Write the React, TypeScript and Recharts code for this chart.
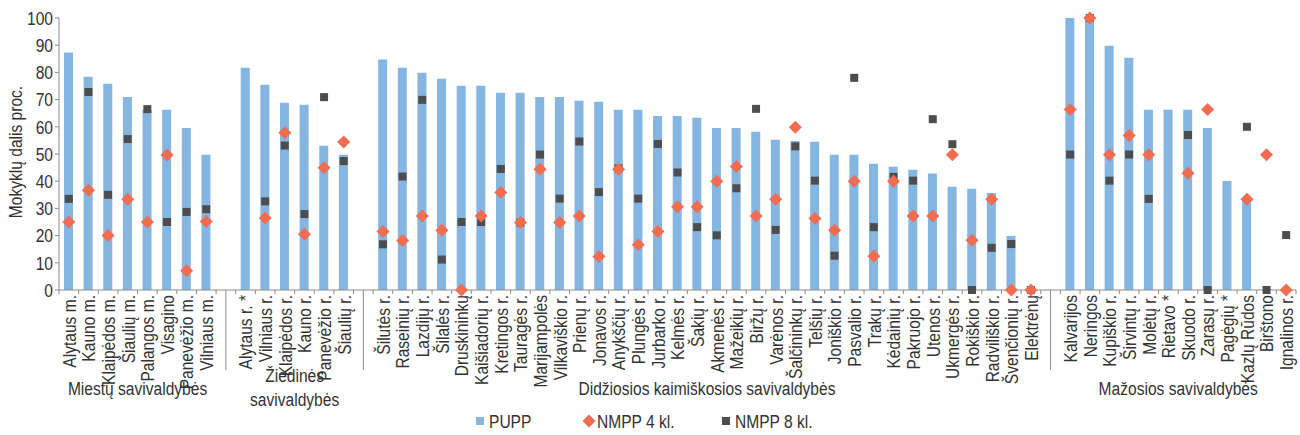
import React from 'react';
import { ComposedChart, Bar, Scatter, XAxis, YAxis, Legend } from 'recharts';

const categories = [
  'Alytaus m.', 'Kauno m.', 'Klaipėdos m.', 'Šiaulių m.', 'Palangos m.', 'Visagino', 'Panevėžio m.', 'Vilniaus m.',
  '',
  'Alytaus r. *', 'Vilniaus r.', 'Klaipėdos r.', 'Kauno r.', 'Panevėžio r.', 'Šiaulių r.',
  '',
  'Šilutės r.', 'Raseinių r.', 'Lazdijų r.', 'Šilalės r.', 'Druskininkų', 'Kaišiadorių r.', 'Kretingos r.', 'Tauragės r.',
  'Marijampolės', 'Vilkaviškio r.', 'Prienų r.', 'Jonavos r.', 'Anykščių r.', 'Plungės r.', 'Jurbarko r.', 'Kelmės r.',
  'Šakių r.', 'Akmenės r.', 'Mažeikių r.', 'Biržų r.', 'Varėnos r.', 'Šalčininkų r.', 'Telšių r.', 'Joniškio r.',
  'Pasvalio r.', 'Trakų r.', 'Kėdainių r.', 'Pakruojo r.', 'Utenos r.', 'Ukmergės r.', 'Rokiškio r.', 'Radviliškio r.',
  'Švenčionių r.', 'Elektrėnų',
  '',
  'Kalvarijos', 'Neringos', 'Kupiškio r.', 'Širvintų r.', 'Molėtų r.', 'Rietavo *', 'Skuodo r.', 'Zarasų r.',
  'Pagėgių *', 'Kazlų Rūdos', 'Birštono', 'Ignalinos r.',
];

const pupp = [
  87.3, 78.4, 75.8, 71, 66.3, 66.3, 59.6, 49.7,
  null,
  81.7, 75.5, 68.8, 68.1, 53, 49.7,
  null,
  84.7, 81.7, 79.9, 77.7, 75.1, 75.1, 72.5, 72.5, 71, 71, 69.6, 69.2, 66.3, 66.3, 64, 64,
  63.3, 59.6, 59.6, 58.2, 55.2, 54.8, 54.5, 49.7, 49.7, 46.4, 45.3, 44.2, 42.8, 38, 37.2, 35.7,
  19.9, 0,
  null,
  100, 100, 89.8, 85.4, 66.3, 66.3, 66.3, 59.6, 40.1, 33.4, 0, 0,
];

const nmpp4 = [
  25, 36.7, 20, 33.4, 25, 49.6, 7.1, 25.2,
  null,
  null, 26.5, 57.8, 20.5, 44.9, 54.4,
  null,
  21.5, 18.2, 27.2, 22, 0, 27.2, 35.8, 24.8, 44.4, 24.8, 27.2, 12.3, 44.4, 16.6, 21.5, 30.6,
  30.6, 40, 45.4, 27.2, 33.4, 59.8, 26.3, 22, 40, 12.4, 40, 27.2, 27.2, 49.7, 18.3, 33.4,
  0, 0,
  null,
  66.4, 100, 49.7, 56.8, 49.7, null, 42.9, 66.4, null, 33.4, 49.7, 0,
];

const nmpp8 = [
  33.5, 72.8, 35, 55.5, 66.5, 25, 28.7, 29.7,
  null,
  null, 32.6, 53.1, 27.9, 70.9, 47.4,
  null,
  16.8, 41.7, 69.9, 11.2, 25, 25, 44.5, 24.8, 49.8, 33.6, 54.6, 36, 44.7, 33.6, 53.7, 43.2,
  23.1, 20.1, 37.4, 66.6, 22.1, 52.8, 40.2, 12.6, 78, 23.1, 41.6, 40.2, 62.8, 53.6, 0, 15.5,
  16.9, 0,
  null,
  49.8, 100, 40.2, 49.8, 33.5, null, 57, 0, null, 60, 0, 20.2,
];

const groups = [
  { lines: ['Miestų savivaldybės'], start: 0, end: 7 },
  { lines: ['Žiedinės', 'savivaldybės'], start: 9, end: 14 },
  { lines: ['Didžiosios kaimiškosios savivaldybės'], start: 16, end: 49 },
  { lines: ['Mažosios savivaldybės'], start: 51, end: 62 },
];

const yTicks = [0, 10, 20, 30, 40, 50, 60, 70, 80, 90, 100];
const yTitle = 'Mokyklų dalis proc.';

const data = categories.map((name, i) => ({
  idx: i,
  name,
  pupp: pupp[i],
  nmpp4: nmpp4[i],
  nmpp8: nmpp8[i],
}));

const W = 1300;
const H = 435;
const Y_AXIS_W = 59;
const RIGHT = 4;
const STEP = (W - Y_AXIS_W - RIGHT) / categories.length;
// no narrow font installed: squeeze Liberation Sans to look like Arial Narrow
const FONT = "'Liberation Sans', Arial, sans-serif";
const TEXT = '#333333';
const AXIS = '#8c8c8c';

const BLUE = '#85B6E2';
const ORANGE = '#F26C4F';
const DARK = '#4D4D4D';

const NText = ({ x, y, rotate = 0, anchor = 'start', dy, size = 19, narrow = 0.82, children }: any) => (
  <text
    transform={`translate(${x},${y}) rotate(${rotate}) scale(${narrow},1)`}
    textAnchor={anchor}
    dy={dy}
    fontSize={size}
    fontFamily={FONT}
    fill={TEXT}
  >
    {children}
  </text>
);

const XTick = (props: any) => {
  const { x, y, payload } = props;
  const i = Number(payload.value);
  const label = categories[i];
  const group = groups.find((g) => g.start === i);
  return (
    <g>
      <line x1={x - STEP / 2} x2={x - STEP / 2} y1={y} y2={y + 4} stroke={AXIS} />
      {i === categories.length - 1 && (
        <line x1={x + STEP / 2} x2={x + STEP / 2} y1={y} y2={y + 4} stroke={AXIS} />
      )}
      {label === '' ? (
        <line x1={x} x2={x} y1={y} y2={y + 80} stroke={AXIS} />
      ) : (
        <NText x={x} y={y + 5} rotate={-90} anchor="end" dy="0.36em">
          {label}
        </NText>
      )}
      {group &&
        group.lines.map((ln, k) => (
          <NText
            key={ln}
            x={x + ((group.end - group.start) / 2) * STEP}
            y={y + (group.lines.length > 1 ? 92 + k * 24 : 105)}
            anchor="middle"
          >
            {ln}
          </NText>
        ))}
    </g>
  );
};

const YTick = (props: any) => {
  const { x, y, payload } = props;
  return (
    <g>
      <NText x={x} y={y} anchor="end" dy="0.36em">
        {payload.value}
      </NText>
      {payload.value === 50 && (
        <NText x={15} y={y - 2} rotate={-90} anchor="middle" dy="0.36em">
          {yTitle}
        </NText>
      )}
    </g>
  );
};

const Diamond = (props: any) => {
  const { cx, cy, payload } = props;
  if (payload == null || payload.nmpp4 == null || !isFinite(cx) || !isFinite(cy)) return <g />;
  const r = 6.5;
  return (
    <polygon
      points={`${cx},${cy - r} ${cx + r},${cy} ${cx},${cy + r} ${cx - r},${cy}`}
      fill={ORANGE}
    />
  );
};

const Square = (props: any) => {
  const { cx, cy, payload } = props;
  if (payload == null || payload.nmpp8 == null || !isFinite(cx) || !isFinite(cy)) return <g />;
  return <rect x={cx - 4} y={cy - 4} width={8} height={8} fill={DARK} />;
};

const renderLegend = () => (
  <svg width={W} height={24} style={{ display: 'block' }}>
    <rect x={476} y={8} width={8} height={8} fill={BLUE} />
    <NText x={489} y={12} dy="0.36em">PUPP</NText>
    <polygon points="589,5.5 595.5,12 589,18.5 582.5,12" fill={ORANGE} />
    <NText x={597} y={12} dy="0.36em">NMPP 4 kl.</NText>
    <rect x={722} y={8} width={8} height={8} fill={DARK} />
    <NText x={735} y={12} dy="0.36em">NMPP 8 kl.</NText>
  </svg>
);

export default function App() {
  return (
    <div style={{ position: 'absolute', left: 0, top: 0, width: W, height: H, background: '#fff' }}>
      <ComposedChart
        width={W}
        height={H}
        data={data}
        margin={{ top: 18, right: RIGHT, bottom: 0, left: 0 }}
        barCategoryGap={0}
      >
        <XAxis
          dataKey="idx"
          interval={0}
          height={145}
          tickSize={0}
          tickMargin={0}
          tickLine={false}
          stroke={AXIS}
          tick={<XTick />}
        />
        <YAxis
          width={Y_AXIS_W}
          domain={[0, 100]}
          ticks={yTicks}
          interval={0}
          tickSize={4}
          tickMargin={2}
          stroke={AXIS}
          tick={<YTick />}
        />
        <Legend
          content={renderLegend}
          verticalAlign="middle"
          align="center"
          wrapperStyle={{ top: 409, left: 0, width: W }}
        />
        <Bar dataKey="pupp" fill={BLUE} barSize={9} isAnimationActive={false} />
        <Scatter dataKey="nmpp8" shape={Square} isAnimationActive={false} />
        <Scatter dataKey="nmpp4" shape={Diamond} isAnimationActive={false} />
      </ComposedChart>
    </div>
  );
}
